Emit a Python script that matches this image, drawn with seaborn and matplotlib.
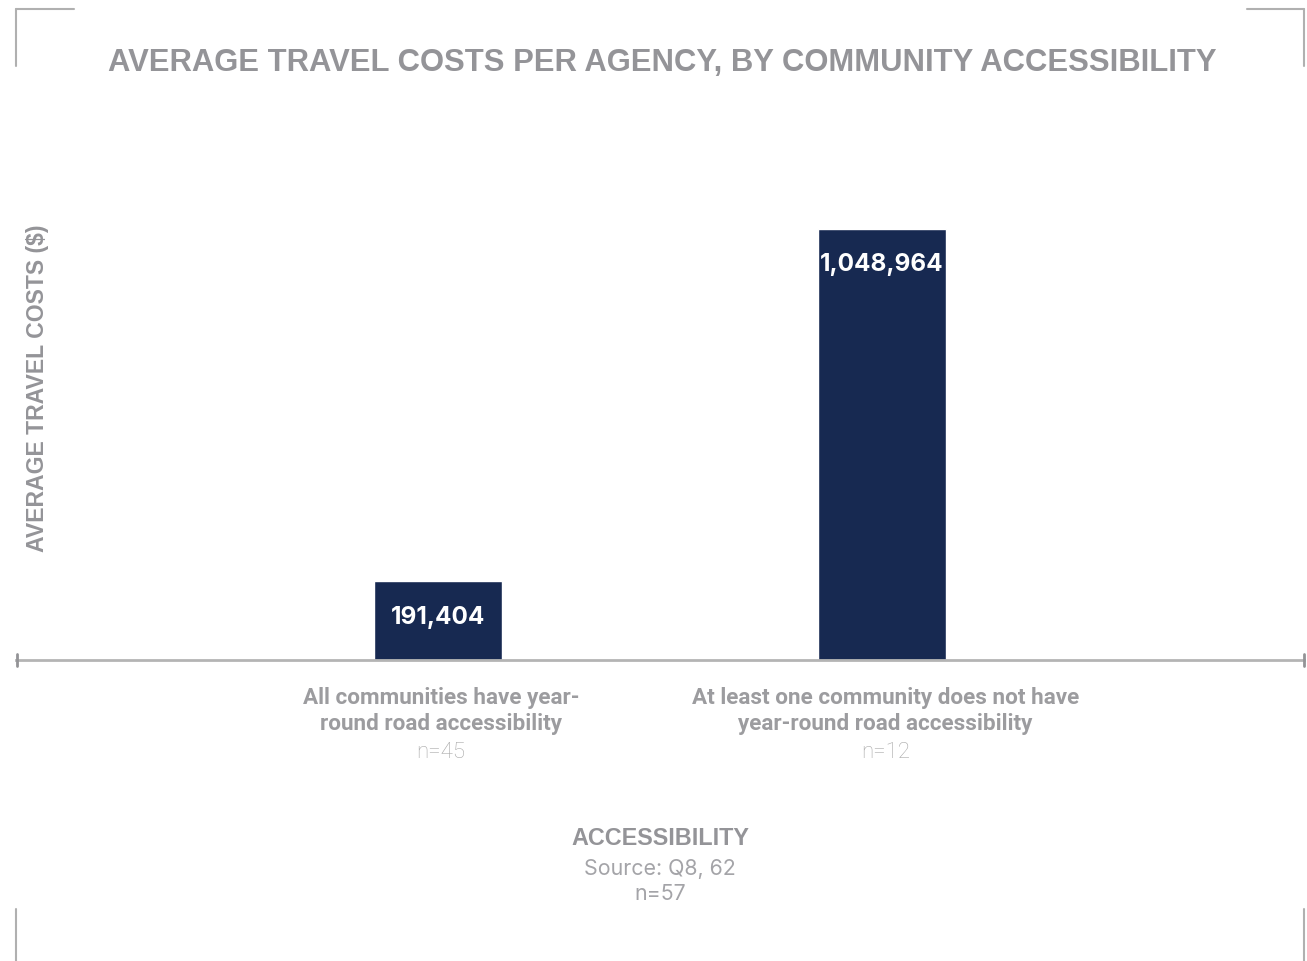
import matplotlib
matplotlib.use("Agg")
import matplotlib.pyplot as plt
from matplotlib.lines import Line2D
from matplotlib.transforms import blended_transform_factory
import seaborn as sns
import pandas as pd

# Data
categories = [
    "All communities have year-\nround road accessibility",
    "At least one community does not have\nyear-round road accessibility",
]
sample_sizes = ["n=45", "n=12"]
avg_costs = [191404, 1048964]
value_labels = ["191,404", "1,048,964"]

sns.set_theme(style="white")
plt.rcParams["font.family"] = ["Liberation Sans", "DejaVu Sans"]

W, H = 1307, 962
fig = plt.figure(figsize=(W / 100, H / 100), dpi=100)

ymax = 1.3e6
base_y = 661
top_y = base_y - 431 / avg_costs[1] * ymax
ax = fig.add_axes([16 / W, (H - base_y) / H, (1304 - 16) / W, (base_y - top_y) / H])

df = pd.DataFrame({"cat": categories, "cost": avg_costs})
sns.barplot(data=df, x="cat", y="cost", color="#172951", width=0.288,
            saturation=1, ax=ax, errorbar=None)

ax.set_xlim(-0.95, 1.95)
ax.set_ylim(0, ymax)
for s in ["top", "left", "right"]:
    ax.spines[s].set_visible(False)
ax.spines["bottom"].set_color("#b4b4b4")
ax.spines["bottom"].set_linewidth(2)
ax.set_yticks([])
ax.set_xticks([])
ax.set_xlabel("")
ax.set_ylabel("")

grey = "#9c9c9f"
title_grey = "#949498"

# Value labels inside the bars
for i, (v, lab) in enumerate(zip(avg_costs, value_labels)):
    ax.annotate(lab, (i, v), xytext=(0, -25), textcoords="offset points",
                ha="center", va="center", color="white", fontsize=17.5,
                fontweight="bold", family=["Inter", "DejaVu Sans"])

# Category labels beneath the axis
trans = blended_transform_factory(ax.transData, fig.transFigure)
for i, (cat, n) in enumerate(zip(categories, sample_sizes)):
    ax.text(i + 0.007, 1 - 711 / H, cat, transform=trans, ha="center", va="center",
            fontsize=16.2, fontweight="bold", color=grey,
            family=["Roboto", "DejaVu Sans"], linespacing=1.28)
    ax.text(i + 0.007, 1 - 753 / H, n, transform=trans, ha="center", va="center",
            fontsize=16, color="#a8a8a8", family=["Roboto", "DejaVu Sans"],
            fontweight="light")

# Titles
fig.text(662 / W, 1 - 63 / H, "AVERAGE TRAVEL COSTS PER AGENCY, BY COMMUNITY ACCESSIBILITY",
         ha="center", va="center", fontsize=22.3, fontweight="bold", color=title_grey)
fig.text(38 / W, 1 - 388 / H, "AVERAGE TRAVEL COSTS ($)", rotation=90,
         ha="center", va="center", fontsize=16.6, fontweight="bold", color=title_grey)
fig.text(660 / W, 1 - 839 / H, "ACCESSIBILITY", ha="center", va="center",
         fontsize=16.8, fontweight="bold", color=title_grey)
fig.text(660 / W, 1 - 869 / H, "Source: Q8, 62", ha="center", va="center",
         fontsize=15.4, color="#a4a4a8", family=["Inter", "DejaVu Sans"])
fig.text(660 / W, 1 - 894 / H, "n=57", ha="center", va="center",
         fontsize=15.4, color="#a4a4a8", family=["Inter", "DejaVu Sans"])

# Axis end ticks and corner brackets
def seg(x0, y0, x1, y1, color="#b0b0b0", lw=1.5):
    fig.add_artist(Line2D([x0 / W, x1 / W], [1 - y0 / H, 1 - y1 / H],
                          color=color, lw=lw, transform=fig.transFigure))

seg(16.5, 655, 16.5, 667, color="#939396", lw=2)
seg(1304, 655, 1304, 667, color="#939396", lw=2)
seg(16, 10, 74, 10)
seg(16, 10, 16, 67)
seg(1247, 10, 1304, 10)
seg(1304, 10, 1304, 67)
seg(16, 910, 16, 962)
seg(1304, 910, 1304, 962)

fig.savefig("out.png", dpi=100)
